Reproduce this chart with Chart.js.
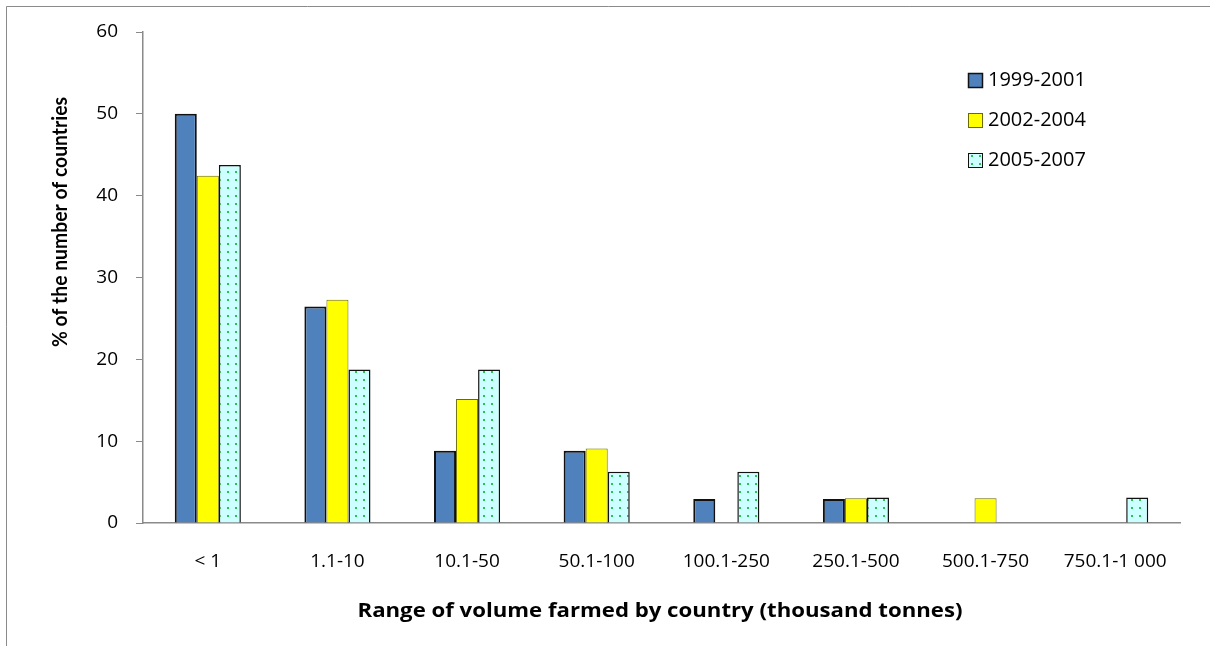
<!DOCTYPE html>
<html>
<head>
<meta charset="utf-8">
<script src="https://cdn.jsdelivr.net/npm/chart.js@4/dist/chart.umd.min.js"></script>
<style>
  html, body { margin: 0; padding: 0; background: #fff; }
  #wrap { width: 1210px; height: 646px; position: relative; }
</style>
</head>
<body>
<div id="wrap"><canvas id="chart" width="1210" height="646"></canvas></div>
<script>
// volume ranges, thousand tonnes
const categories = ['< 1', '1.1-10', '10.1-50', '50.1-100', '100.1-250', '250.1-500', '500.1-750', '750.1-1 000'];

// share of countries in each range, %
const period1 = [50.0, 26.47, 8.82, 8.82, 2.94, 2.94, 0, 0];
const period2 = [42.42, 27.27, 15.15, 9.09, 0, 3.03, 3.03, 0];
const period3 = [43.75, 18.75, 18.75, 6.25, 6.25, 3.125, 0, 3.125];

const seriesNames = ['1999-2001', '2002-2004', '2005-2007'];
const yTicks = [0, 10, 20, 30, 40, 50, 60];

const FONT = '"Open Sans", Lato, sans-serif';
const NARROW = 'Lato, "Open Sans", sans-serif';

// light cyan fill with small green dots
function dotPattern() {
  const c = document.createElement('canvas');
  c.width = 8;
  c.height = 8;
  const g = c.getContext('2d');
  g.fillStyle = '#ccffff';
  g.fillRect(0, 0, 8, 8);
  g.fillStyle = '#2fbf55';
  g.fillRect(3, 3, 2, 2);
  return g.createPattern(c, 'repeat');
}
const dots = dotPattern();

const noZero = w => ctx => (ctx.raw === 0 ? 0 : w);

// draw text squeezed or stretched to a given width
function fitText(ctx, text, x, y, width) {
  const w = ctx.measureText(text).width;
  ctx.save();
  ctx.translate(x, y);
  ctx.scale(width / w, 1);
  ctx.fillText(text, 0, 0);
  ctx.restore();
}

const frameAndTitles = {
  id: 'frameAndTitles',
  beforeDraw(chart) {
    const ctx = chart.ctx;
    ctx.save();
    ctx.strokeStyle = '#8a8a8a';
    ctx.lineWidth = 1;
    ctx.beginPath();
    ctx.moveTo(6.5, 646);
    ctx.lineTo(6.5, 6.5);
    ctx.lineTo(1210, 6.5);
    ctx.stroke();
    ctx.restore();
  },
  afterDraw(chart) {
    const ctx = chart.ctx;
    ctx.save();
    ctx.fillStyle = '#000';
    ctx.textAlign = 'center';
    ctx.textBaseline = 'middle';
    ctx.font = 'bold 20px ' + FONT;
    fitText(ctx, 'Range of volume farmed by country (thousand tonnes)', 660, 611, 605);
    ctx.font = 'bold 20px ' + NARROW;
    ctx.translate(61, 222);
    ctx.rotate(-Math.PI / 2);
    fitText(ctx, '% of the number of countries', 0, 0, 250);
    ctx.restore();

    // legend
    ctx.save();
    ctx.font = '20px ' + FONT;
    ctx.textBaseline = 'middle';
    ctx.textAlign = 'left';
    chart.data.datasets.forEach((ds, i) => {
      const cy = 80 + i * 40;
      ctx.fillStyle = ds.backgroundColor;
      ctx.fillRect(968, cy - 7, 15, 15);
      ctx.strokeStyle = i === 1 ? '#6b6b00' : '#111';
      ctx.lineWidth = i === 0 ? 1.5 : 1;
      ctx.strokeRect(968.5, cy - 6.5, 14, 14);
      ctx.fillStyle = '#000';
      ctx.fillText(ds.label, 988, cy);
    });
    ctx.restore();
  }
};

new Chart(document.getElementById('chart'), {
  type: 'bar',
  data: {
    labels: categories,
    datasets: [
      { label: seriesNames[0], data: period1, backgroundColor: '#4f81bd', borderColor: '#111', borderWidth: noZero(2), borderSkipped: 'bottom' },
      { label: seriesNames[1], data: period2, backgroundColor: '#ffff00', borderColor: '#6b6b00', borderWidth: noZero(1), borderSkipped: 'bottom' },
      { label: seriesNames[2], data: period3, backgroundColor: dots, borderColor: '#111', borderWidth: noZero(1.5), borderSkipped: 'bottom' }
    ]
  },
  options: {
    responsive: false,
    animation: false,
    layout: { padding: { top: 32, right: 30, left: 0, bottom: 0 } },
    categoryPercentage: 0.51,
    barPercentage: 1,
    plugins: { legend: { display: false }, tooltip: { enabled: false } },
    scales: {
      x: {
        afterFit: s => { s.height = 123; },
        grid: { display: false, drawTicks: false },
        border: { display: true, color: '#8a8a8a', width: 1.5 },
        ticks: { padding: 27, color: '#000', font: { family: FONT, size: 19 }, maxRotation: 0, autoSkip: false }
      },
      y: {
        min: 0,
        max: 60,
        afterFit: s => { s.width = 143; },
        afterBuildTicks: s => { s.ticks = yTicks.map(v => ({ value: v })); },
        grid: { drawOnChartArea: false, drawTicks: true, tickLength: 7, color: '#8a8a8a' },
        border: { display: true, color: '#8a8a8a', width: 1.5 },
        ticks: { padding: 18, color: '#000', font: { family: FONT, size: 19 } }
      }
    }
  },
  plugins: [frameAndTitles]
});
</script>
</body>
</html>
